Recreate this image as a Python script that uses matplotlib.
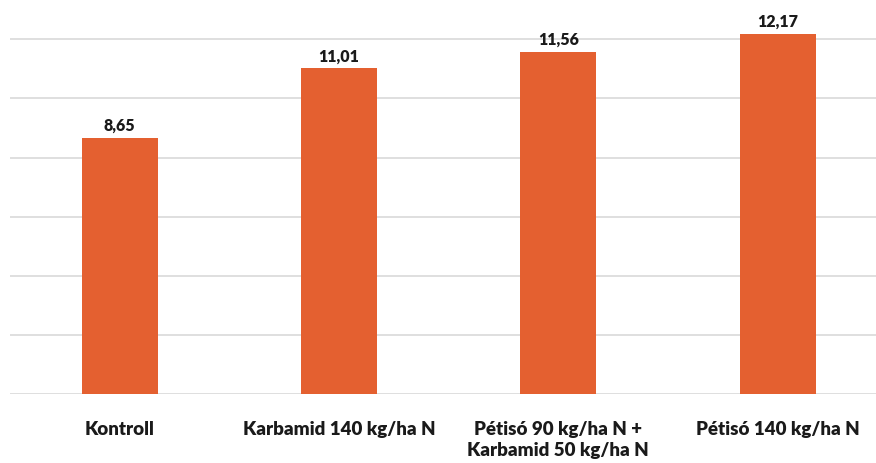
import matplotlib
matplotlib.use("Agg")
import matplotlib.pyplot as plt

categories = ["Kontroll", "Karbamid 140 kg/ha N", "Pétisó 90 kg/ha N +\nKarbamid 50 kg/ha N", "Pétisó 140 kg/ha N"]
values = [8.65, 11.01, 11.56, 12.17]
value_labels = ["8,65", "11,01", "11,56", "12,17"]
grid_ticks = [0, 2, 4, 6, 8, 10, 12]

plt.rcParams['font.family'] = ['Lato', 'DejaVu Sans']

W, H = 876, 463
fig = plt.figure(figsize=(W / 100, H / 100), dpi=100)
left = 10 / W
bottom = (H - 394.3) / H
ax = fig.add_axes([left, bottom, 877.2 / W, 394.3 / H])

x = list(range(len(categories)))
bars = ax.bar(x, values, width=0.347, color="#E46030", zorder=3)
ax.set_xlim(-0.5, 3.5)
ax.set_ylim(0, 394.3 / 29.6)
ax.set_yticks(grid_ticks)
ax.yaxis.grid(True, color="#D9D9D9", linewidth=1.2, zorder=0)
ax.tick_params(axis='y', left=False, labelleft=False)
ax.tick_params(axis='x', bottom=False, pad=16)
ax.set_xticks(x)
ax.set_xticklabels(categories, fontsize=13.5, fontweight='heavy', color="#1A1A1A", va='top', linespacing=1.25)
for s in ax.spines.values():
    s.set_visible(False)

for xi, v, lab in zip(x, values, value_labels):
    ax.annotate(lab, (xi, v), xytext=(0, 3), textcoords='offset points',
                ha='center', va='bottom', fontsize=11.5, fontweight='heavy', color="#1A1A1A")

fig.savefig("out.png", dpi=100, facecolor="white")
